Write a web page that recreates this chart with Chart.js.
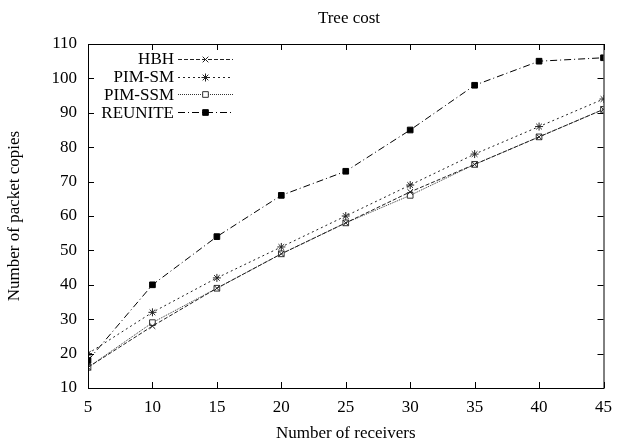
<!DOCTYPE html>
<html>
<head>
<meta charset="utf-8">
<script src="https://cdn.jsdelivr.net/npm/chart.js@4"></script>
<style>
  html, body { margin: 0; padding: 0; background: #fff; }
  #wrap { width: 621px; height: 444px; position: relative; }
</style>
</head>
<body>
<div id="wrap"><canvas id="tree-cost"></canvas></div>
<script>
// --- data ---
const receivers = [5, 10, 15, 20, 25, 30, 35, 40, 45];
const hbh     = [16, 28, 39, 49, 58, 67, 75, 83, 91];
const pimSm   = [20, 32, 42, 51, 60, 69, 78, 86, 94];
const pimSsm  = [16, 29, 39, 49, 58, 66, 75, 83, 91];
const reunite = [18, 40, 54, 66, 73, 85, 98, 105, 106];
const seriesNames = ['HBH', 'PIM-SM', 'PIM-SSM', 'REUNITE'];

const SERIF = '"Liberation Serif", "DejaVu Serif", serif';
const FONT_SIZE = 17;

const toPoints = vals => vals.map((v, i) => ({ x: receivers[i], y: v }));

function makeSet(label, vals, dash, style, fill, color) {
  return {
    label,
    data: toPoints(vals),
    borderColor: color,
    backgroundColor: fill,
    borderWidth: 1,
    borderDash: dash,
    pointStyle: style,
    pointRadius: 4,
    pointBorderColor: color,
    pointBackgroundColor: fill,
    pointBorderWidth: 1,
    tension: 0,
    fill: false
  };
}

// frame, inward ticks on all four sides, title and key
const framePlugin = {
  id: 'frame',
  afterDatasetsDraw(chart) {
    const { ctx, chartArea: a, scales } = chart;
    const tl = 6;
    ctx.save();
    ctx.strokeStyle = '#000';
    ctx.lineWidth = 1;
    ctx.setLineDash([]);
    ctx.strokeRect(a.left + 0.5, a.top + 0.5, a.right - a.left, a.bottom - a.top);
    ctx.beginPath();
    scales.x.ticks.forEach(t => {
      const px = Math.round(scales.x.getPixelForValue(t.value)) + 0.5;
      ctx.moveTo(px, a.bottom); ctx.lineTo(px, a.bottom - tl);
      ctx.moveTo(px, a.top); ctx.lineTo(px, a.top + tl);
    });
    scales.y.ticks.forEach(t => {
      const py = Math.round(scales.y.getPixelForValue(t.value)) + 0.5;
      ctx.moveTo(a.left, py); ctx.lineTo(a.left + tl, py);
      ctx.moveTo(a.right, py); ctx.lineTo(a.right - tl, py);
    });
    ctx.stroke();

    // title
    ctx.fillStyle = '#000';
    ctx.font = FONT_SIZE + 'px ' + SERIF;
    ctx.textAlign = 'center';
    ctx.textBaseline = 'middle';
    ctx.fillText('Tree cost', 349, 19);

    // key
    const textRight = 174, lineStart = 178, lineEnd = 233;
    ctx.textAlign = 'right';
    chart.data.datasets.forEach((ds, i) => {
      const y = 59 + i * 17.7;
      ctx.fillStyle = '#000';
      ctx.fillText(ds.label, textRight, y + 1);
      ctx.beginPath();
      ctx.setLineDash(ds.borderDash);
      ctx.strokeStyle = ds.borderColor;
      ctx.moveTo(lineStart, Math.round(y) + 0.5);
      ctx.lineTo(lineEnd, Math.round(y) + 0.5);
      ctx.stroke();
      ctx.setLineDash([]);
      ctx.fillStyle = ds.pointBackgroundColor;
      Chart.helpers.drawPoint(ctx, {
        pointStyle: ds.pointStyle, radius: ds.pointRadius, rotation: 0, borderWidth: 1
      }, (lineStart + lineEnd) / 2, Math.round(y) + 0.5);
    });
    ctx.restore();
  }
};

new Chart(document.getElementById('tree-cost'), {
  type: 'line',
  data: {
    datasets: [
      makeSet(seriesNames[0], hbh, [4, 2], 'crossRot', '#fff', '#222'),
      makeSet(seriesNames[1], pimSm, [2, 3], 'star', '#fff', '#222'),
      makeSet(seriesNames[2], pimSsm, [1, 1], 'rect', '#fff', '#333'),
      makeSet(seriesNames[3], reunite, [7, 3, 1, 3], 'rect', '#000', '#000')
    ]
  },
  options: {
    responsive: true,
    maintainAspectRatio: false,
    animation: false,
    layout: { padding: { top: 44, right: 12, left: 0, bottom: 0 } },
    plugins: { legend: { display: false }, title: { display: false }, tooltip: { enabled: false } },
    scales: {
      x: {
        type: 'linear', min: 5, max: 45,
        grid: { display: false, drawTicks: false },
        border: { display: false },
        ticks: { stepSize: 5, color: '#000', padding: 9, font: { family: SERIF, size: FONT_SIZE } },
        title: { display: true, text: 'Number of receivers', color: '#000', padding: { top: 4, bottom: 0 }, font: { family: SERIF, size: FONT_SIZE } },
        afterFit(s) { s.height = 56; }
      },
      y: {
        min: 10, max: 110,
        grid: { display: false, drawTicks: false },
        border: { display: false },
        ticks: { stepSize: 10, color: '#000', padding: 11, font: { family: SERIF, size: FONT_SIZE } },
        title: { display: true, text: 'Number of packet copies', color: '#000', padding: { bottom: 0 }, font: { family: SERIF, size: FONT_SIZE } },
        afterFit(s) { s.width = 88; }
      }
    }
  },
  plugins: [framePlugin]
});
</script>
</body>
</html>
